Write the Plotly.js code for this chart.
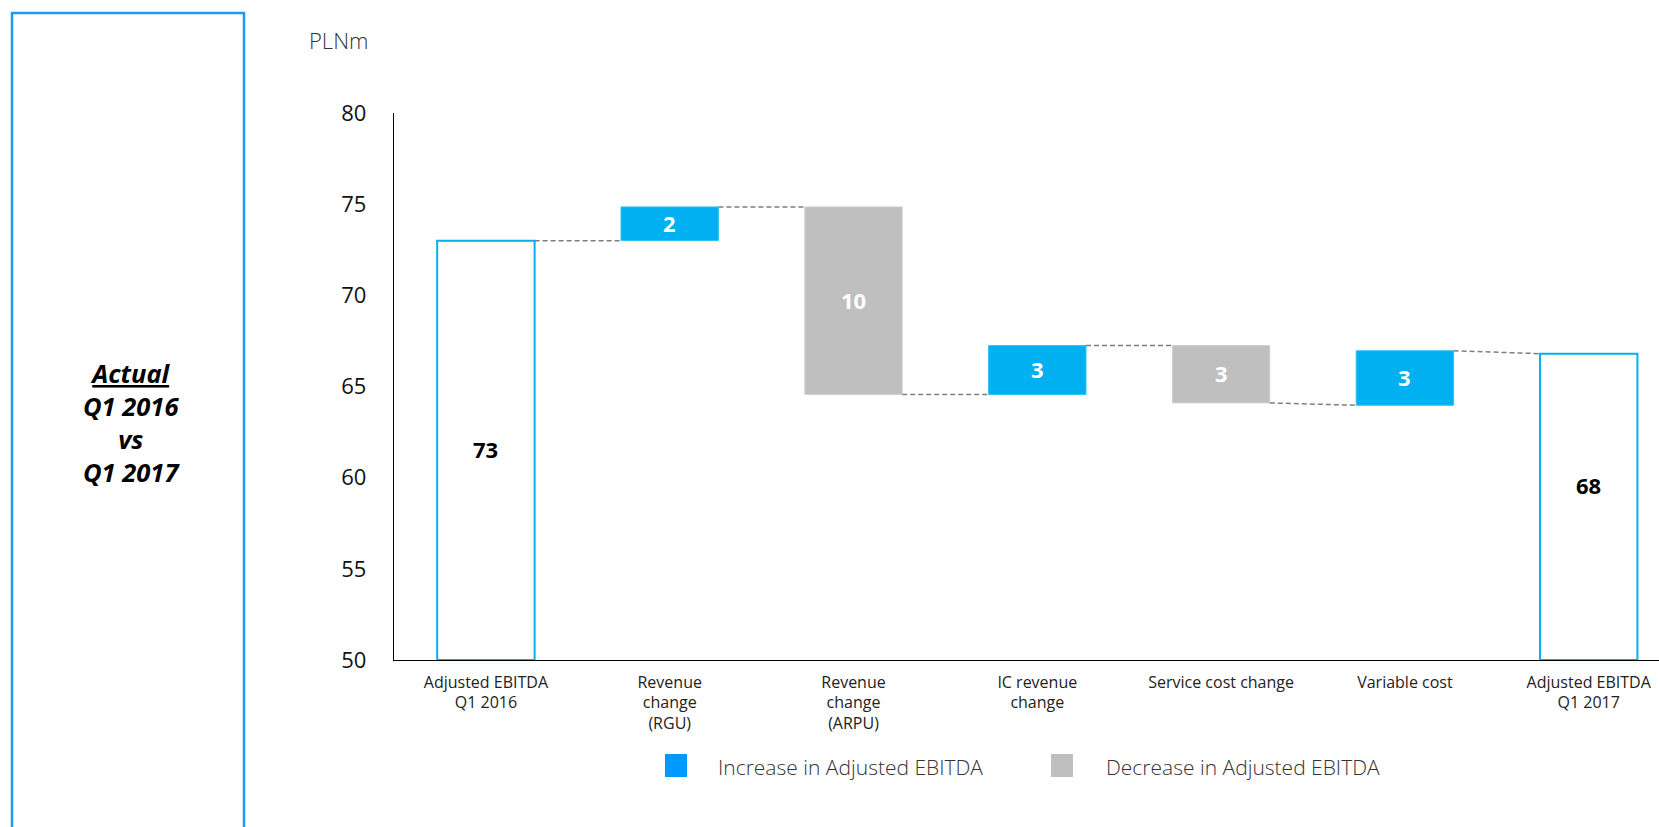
<!DOCTYPE html>
<html>
<head>
<meta charset="utf-8">
<script src="https://cdn.plot.ly/plotly-3.0.1.min.js"></script>
<style>html,body{margin:0;padding:0;background:#fff;}#chart{width:1659px;height:827px;}</style>
</head>
<body>
<div id="chart"></div>
<script>
// ---- data ----
const categories = [
  "Adjusted EBITDA<br>Q1 2016",
  "Revenue<br>change<br>(RGU)",
  "Revenue<br>change<br>(ARPU)",
  "IC revenue<br>change",
  "Service cost change",
  "Variable cost",
  "Adjusted EBITDA<br>Q1 2017"
];
const barKind  = ["total", "increase", "decrease", "increase", "decrease", "increase", "total"];
const lowVals  = [50, 73.0, 64.56, 64.56, 64.1, 63.97, 50];
const highVals = [73.0, 74.85, 74.85, 67.25, 67.25, 66.96, 66.8];
const valueLabels = ["73", "2", "10", "3", "3", "3", "68"];
const yTickVals = [50, 55, 60, 65, 70, 75, 80];
const unitLabel = "PLNm";
const legendLabels = ["Increase in Adjusted EBITDA", "Decrease in Adjusted EBITDA"];
const sideTitle = ["Actual", "Q1 2016", "vs", "Q1 2017"];

// ---- styles ----
const C_INC = "#00B0F0", C_DEC = "#BFBFBF", C_TOT = "#00B0F0";
const C_LEG_INC = "#0099FF", C_BOX = "#1E9CF2";
const FONT = "'Open Sans', 'Noto Sans', sans-serif";
const BAR_W = 0.53;

const L = 394, R = 0, T = 113, B = 167, WIDTH = 1659, HEIGHT = 827;
const PW = WIDTH - L - R, PH = HEIGHT - T - B;
const px = v => (v - L) / PW;
const py = v => (T + PH - v) / PH;

const xIdx = categories.map((_, i) => i);
const fillColors = barKind.map(k => k === "total" ? "#FFFFFF" : (k === "increase" ? C_INC : C_DEC));
const lineColors = barKind.map(k => k === "total" ? C_TOT : (k === "increase" ? "#33C3F5" : "#D0D0D0"));
const lineWidths = barKind.map(k => k === "total" ? 2 : 1);

const traces = [{
  type: "bar",
  x: xIdx,
  y: highVals.map((h, i) => h - lowVals[i]),
  base: lowVals,
  width: BAR_W,
  marker: {color: fillColors, line: {color: lineColors, width: lineWidths}},
  hoverinfo: "skip",
  showlegend: false
}];

// connectors
const startLevel = barKind.map((k, i) => k === "decrease" ? highVals[i] : (k === "total" ? highVals[i] : lowVals[i]));
const endLevel   = barKind.map((k, i) => k === "decrease" ? lowVals[i] : highVals[i]);
for (let i = 0; i < categories.length - 1; i++) {
  traces.push({
    type: "scatter", mode: "lines",
    x: [xIdx[i] + BAR_W / 2, xIdx[i + 1] - BAR_W / 2],
    y: [endLevel[i], startLevel[i + 1]],
    line: {color: "#7F7F7F", width: 1.5, dash: "5px,3px"},
    hoverinfo: "skip", showlegend: false
  });
}

const annotations = [];
// value labels
valueLabels.forEach((t, i) => {
  const isTot = barKind[i] === "total";
  annotations.push({
    x: xIdx[i], y: (lowVals[i] + highVals[i]) / 2, xref: "x", yref: "y",
    text: "<b>" + t + "</b>", showarrow: false,
    yshift: (i === categories.length - 1) ? 22 : 1,
    font: {family: FONT, size: 22, color: isTot ? "#000000" : "#FFFFFF"}
  });
});
// unit label
annotations.push({
  x: px(338), y: py(40), xref: "paper", yref: "paper", showarrow: false,
  text: unitLabel, xanchor: "center", yanchor: "middle",
  font: {family: FONT, size: 22, color: "#333333", weight: 300}
});
// side title
annotations.push({
  x: px(131), y: py(422), xref: "paper", yref: "paper", showarrow: false,
  xanchor: "center", yanchor: "middle", align: "center",
  text: "<b><i><u>" + sideTitle[0] + "</u></i></b><br>" + sideTitle.slice(1).map(s => "<b><i>" + s + "</i></b>").join("<br>"),
  font: {family: FONT, size: 25.5, color: "#000000"}
});
// legend texts
annotations.push({
  x: px(716), y: py(767), xref: "paper", yref: "paper", showarrow: false,
  xanchor: "left", yanchor: "middle", text: legendLabels[0],
  font: {family: FONT, size: 21, color: "#333333", weight: 300}
});
annotations.push({
  x: px(1104), y: py(767), xref: "paper", yref: "paper", showarrow: false,
  xanchor: "left", yanchor: "middle", text: legendLabels[1],
  font: {family: FONT, size: 21, color: "#333333", weight: 300}
});

const shapes = [
  // side box
  {type: "rect", xref: "paper", yref: "paper", x0: px(12), x1: px(244), y0: py(13), y1: py(840),
   line: {color: C_BOX, width: 2.5}, fillcolor: "rgba(0,0,0,0)"},
  // legend swatches
  {type: "rect", xref: "paper", yref: "paper", x0: px(665), x1: px(687), y0: py(777), y1: py(754),
   line: {width: 0}, fillcolor: C_LEG_INC},
  {type: "rect", xref: "paper", yref: "paper", x0: px(1051), x1: px(1073), y0: py(777), y1: py(754),
   line: {width: 0}, fillcolor: C_DEC}
];

const layout = {
  width: WIDTH, height: HEIGHT,
  margin: {l: L, r: R, t: T, b: B, pad: 0},
  paper_bgcolor: "#FFFFFF", plot_bgcolor: "#FFFFFF",
  showlegend: false,
  font: {family: FONT},
  xaxis: {
    range: [-0.5, -0.5 + PW / 183.8],
    tickvals: xIdx, ticktext: categories,
    showgrid: false, zeroline: false,
    showline: true, linecolor: "#000000", linewidth: 1.3,
    ticks: "outside", ticklen: 7, tickcolor: "rgba(0,0,0,0)",
    tickfont: {family: FONT, size: 16, color: "#222222"},
    fixedrange: true
  },
  yaxis: {
    range: [50, 80],
    tickvals: yTickVals,
    showgrid: false, zeroline: false,
    showline: true, linecolor: "#000000", linewidth: 1.3,
    ticks: "outside", ticklen: 22, tickcolor: "rgba(0,0,0,0)",
    tickfont: {family: FONT, size: 22, color: "#111111"},
    fixedrange: true
  },
  annotations: annotations,
  shapes: shapes
};

Plotly.newPlot("chart", traces, layout, {staticPlot: true, displayModeBar: false});
</script>
</body>
</html>
